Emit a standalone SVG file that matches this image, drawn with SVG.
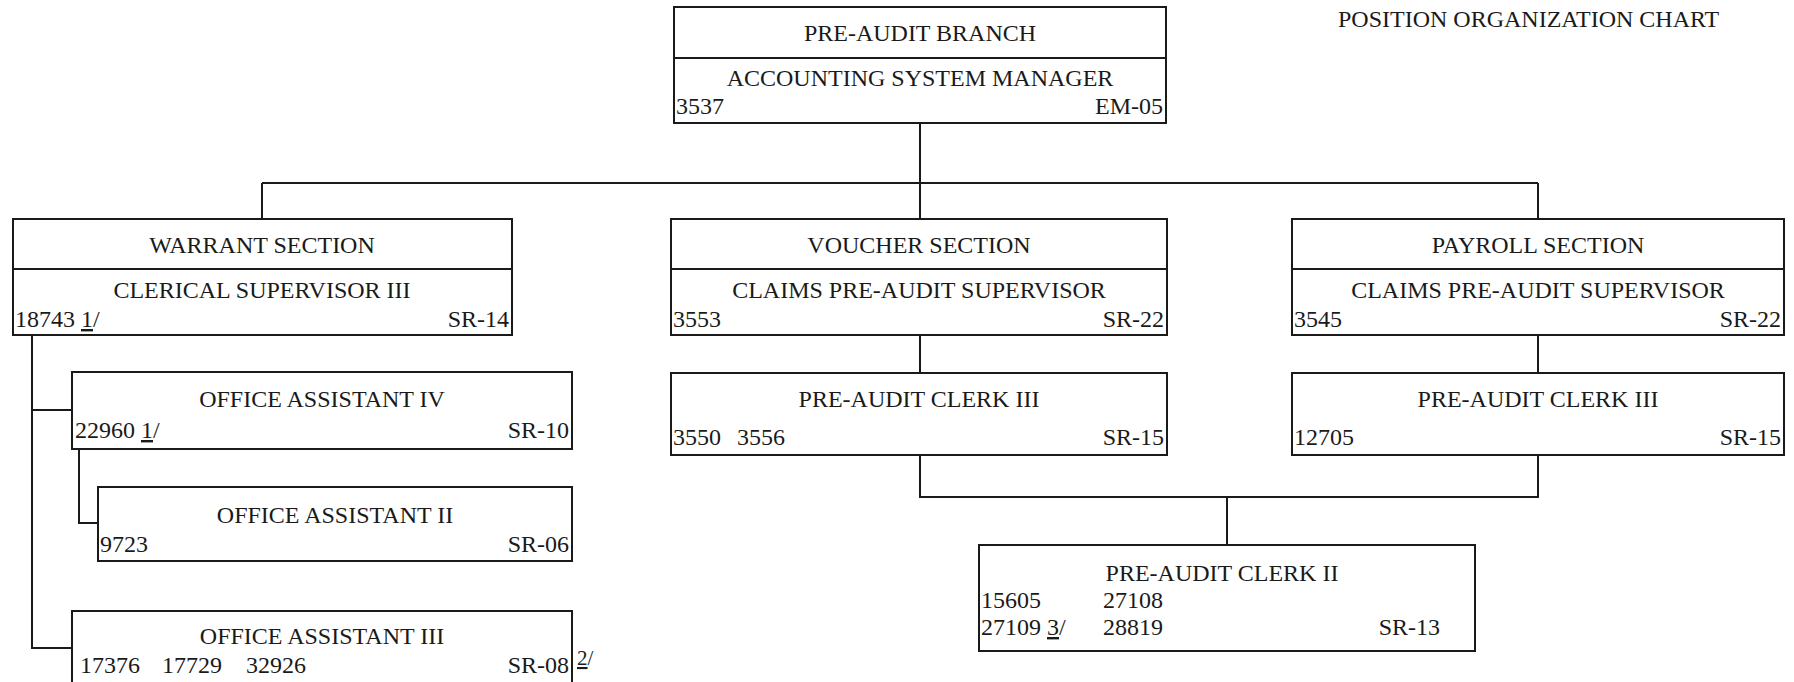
<svg xmlns="http://www.w3.org/2000/svg" width="1794" height="682" viewBox="0 0 1794 682">
<style>
text { font-family: "Liberation Serif", "Times New Roman", serif; font-size: 24px; fill: #1a1a1a; }
.c { text-anchor: middle; }
.r { text-anchor: end; }
.box { fill: none; stroke: #1a1a1a; stroke-width: 2; }
.dv { stroke: #1a1a1a; stroke-width: 2; }
.conn line, .conn polyline { stroke: #1a1a1a; stroke-width: 2; fill: none; }
.u { text-decoration: underline; }
.fn { font-size: 21px; }
</style>
<rect width="1794" height="682" fill="#ffffff"/>

<text id="title" x="1338" y="27">POSITION ORGANIZATION CHART</text>

<g class="conn">
  <line x1="920" y1="123" x2="920" y2="219"/>
  <line x1="262" y1="183" x2="1538" y2="183"/>
  <line x1="262" y1="183" x2="262" y2="219"/>
  <line x1="1538" y1="183" x2="1538" y2="219"/>
  <polyline points="32,335 32,648 72,648"/>
  <line x1="32" y1="410" x2="72" y2="410"/>
  <polyline points="79,449 79,523 98,523"/>
  <line x1="920" y1="335" x2="920" y2="373"/>
  <line x1="1538" y1="335" x2="1538" y2="373"/>
  <polyline points="920,455 920,497 1538,497 1538,455"/>
  <line x1="1227" y1="497" x2="1227" y2="545"/>
</g>

<g id="pre-audit-branch">
  <rect class="box" x="674" y="7" width="492" height="116"/>
  <line class="dv" x1="674" y1="58" x2="1166" y2="58"/>
  <text class="c" x="920" y="41">PRE-AUDIT BRANCH</text>
  <text class="c" x="920" y="86">ACCOUNTING SYSTEM MANAGER</text>
  <text x="676" y="114">3537</text>
  <text class="r" x="1163" y="114">EM-05</text>
</g>

<g id="warrant-section">
  <rect class="box" x="13" y="219" width="499" height="116"/>
  <line class="dv" x1="13" y1="269" x2="512" y2="269"/>
  <text class="c" x="262" y="253">WARRANT SECTION</text>
  <text class="c" x="262" y="298">CLERICAL SUPERVISOR III</text>
  <text x="15" y="327">18743 <tspan class="u">1</tspan>/</text>
  <text class="r" x="509" y="327">SR-14</text>
</g>

<g id="voucher-section">
  <rect class="box" x="671" y="219" width="496" height="116"/>
  <line class="dv" x1="671" y1="269" x2="1167" y2="269"/>
  <text class="c" x="919" y="253">VOUCHER SECTION</text>
  <text class="c" x="919" y="298">CLAIMS PRE-AUDIT SUPERVISOR</text>
  <text x="673" y="327">3553</text>
  <text class="r" x="1164" y="327">SR-22</text>
</g>

<g id="payroll-section">
  <rect class="box" x="1292" y="219" width="492" height="116"/>
  <line class="dv" x1="1292" y1="269" x2="1784" y2="269"/>
  <text class="c" x="1538" y="253">PAYROLL SECTION</text>
  <text class="c" x="1538" y="298">CLAIMS PRE-AUDIT SUPERVISOR</text>
  <text x="1294" y="327">3545</text>
  <text class="r" x="1781" y="327">SR-22</text>
</g>

<g id="office-assistant-iv">
  <rect class="box" x="72" y="372" width="500" height="77"/>
  <text class="c" x="322" y="407">OFFICE ASSISTANT IV</text>
  <text x="75" y="438">22960 <tspan class="u">1</tspan>/</text>
  <text class="r" x="569" y="438">SR-10</text>
</g>

<g id="office-assistant-ii">
  <rect class="box" x="98" y="487" width="474" height="74"/>
  <text class="c" x="335" y="523">OFFICE ASSISTANT II</text>
  <text x="100" y="552">9723</text>
  <text class="r" x="569" y="552">SR-06</text>
</g>

<g id="office-assistant-iii">
  <rect class="box" x="72" y="611" width="500" height="80"/>
  <text class="c" x="322" y="644">OFFICE ASSISTANT III</text>
  <text x="80" y="673">17376</text>
  <text x="162" y="673">17729</text>
  <text x="246" y="673">32926</text>
  <text class="r" x="569" y="673">SR-08</text>
  <text class="fn" x="577" y="665"><tspan class="u">2</tspan>/</text>
</g>

<g id="voucher-clerk-iii">
  <rect class="box" x="671" y="373" width="496" height="82"/>
  <text class="c" x="919" y="407">PRE-AUDIT CLERK III</text>
  <text x="673" y="445">3550</text>
  <text x="737" y="445">3556</text>
  <text class="r" x="1164" y="445">SR-15</text>
</g>

<g id="payroll-clerk-iii">
  <rect class="box" x="1292" y="373" width="492" height="82"/>
  <text class="c" x="1538" y="407">PRE-AUDIT CLERK III</text>
  <text x="1294" y="445">12705</text>
  <text class="r" x="1781" y="445">SR-15</text>
</g>

<g id="pre-audit-clerk-ii">
  <rect class="box" x="979" y="545" width="496" height="106"/>
  <text class="c" x="1222" y="581">PRE-AUDIT CLERK II</text>
  <text x="981" y="608">15605</text>
  <text x="1103" y="608">27108</text>
  <text x="981" y="635">27109 <tspan class="u">3</tspan>/</text>
  <text x="1103" y="635">28819</text>
  <text class="r" x="1440" y="635">SR-13</text>
</g>
</svg>
